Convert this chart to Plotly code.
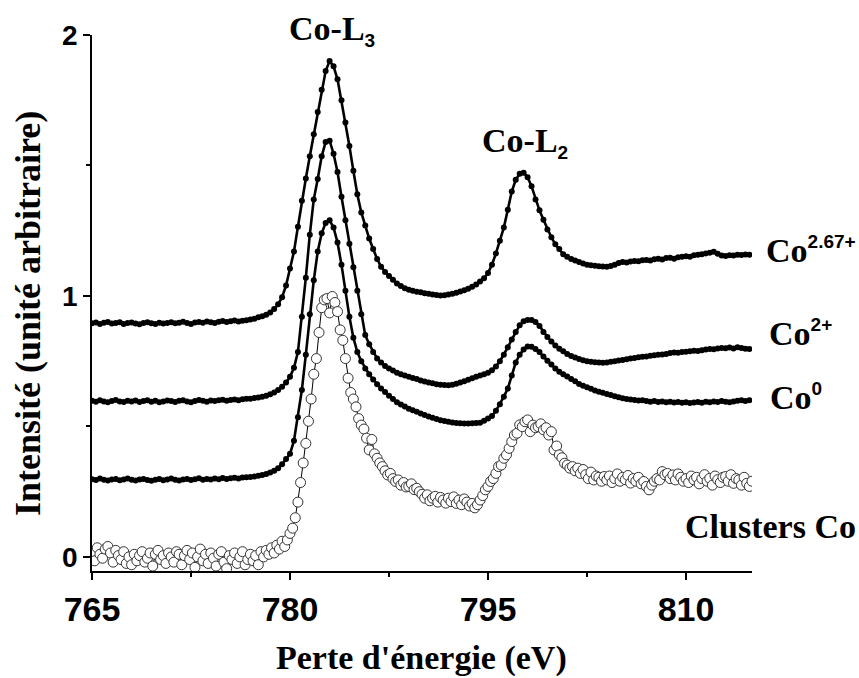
import plotly.graph_objects as go

# Energy sampling grids (eV)
energy_main = [round(765 + 0.3 * i, 1) for i in range(167)]
energy_clusters = [round(765 + 0.2 * i, 1) for i in range(251)]

# Co 2.67+ spectrum (offset +0.9)
co267 = [
    0.895, 0.898, 0.893, 0.897, 0.900, 0.894, 0.896, 0.899, 0.893, 0.896,
    0.898, 0.894, 0.892, 0.896, 0.899, 0.895, 0.893, 0.897, 0.894, 0.896,
    0.899, 0.895, 0.897, 0.901, 0.896, 0.893, 0.898, 0.900, 0.897, 0.902,
    0.899, 0.896, 0.901, 0.904, 0.900, 0.903, 0.906, 0.902, 0.905, 0.907,
    0.910, 0.913, 0.918, 0.922, 0.928, 0.937, 0.950, 0.968, 0.995, 1.040,
    1.105, 1.170, 1.265, 1.365, 1.450, 1.535, 1.620, 1.705, 1.790, 1.862,
    1.900, 1.880, 1.830, 1.750, 1.665, 1.575, 1.480, 1.390, 1.320, 1.270,
    1.220, 1.180, 1.142, 1.112, 1.092, 1.076, 1.062, 1.048, 1.038, 1.030,
    1.024, 1.020, 1.016, 1.014, 1.010, 1.008, 1.006, 1.004, 1.002, 1.003,
    1.006, 1.008, 1.012, 1.017, 1.022, 1.028, 1.035, 1.044, 1.055, 1.068,
    1.088, 1.120, 1.163, 1.212, 1.262, 1.330, 1.400, 1.445, 1.468, 1.472,
    1.455, 1.420, 1.370, 1.328, 1.292, 1.255, 1.225, 1.198, 1.180, 1.160,
    1.150, 1.142, 1.136, 1.130, 1.124, 1.120, 1.118, 1.116, 1.114, 1.113,
    1.112, 1.115, 1.120, 1.126, 1.130, 1.128, 1.132, 1.134, 1.133, 1.137,
    1.138, 1.136, 1.141, 1.143, 1.140, 1.145, 1.146, 1.143, 1.148, 1.150,
    1.152, 1.150, 1.156, 1.158, 1.160, 1.163, 1.166, 1.169, 1.162, 1.155,
    1.153, 1.156, 1.155, 1.158, 1.157, 1.159, 1.158,
]

# Co 2+ spectrum (offset +0.6)
co2 = [
    0.598, 0.595, 0.600, 0.596, 0.593, 0.597, 0.601, 0.596, 0.594, 0.598,
    0.596, 0.599, 0.594, 0.597, 0.600, 0.595, 0.598, 0.593, 0.596, 0.599,
    0.597, 0.594, 0.598, 0.600, 0.596, 0.593, 0.597, 0.601, 0.598, 0.595,
    0.599, 0.597, 0.600, 0.602, 0.598, 0.601, 0.603, 0.600, 0.604, 0.606,
    0.606, 0.609, 0.611, 0.614, 0.618, 0.623, 0.630, 0.640, 0.652, 0.668,
    0.690, 0.725, 0.785, 0.920, 1.070, 1.235, 1.370, 1.448, 1.535, 1.590,
    1.595, 1.545, 1.475, 1.380, 1.290, 1.200, 1.110, 1.020, 0.930, 0.850,
    0.815, 0.785, 0.760, 0.745, 0.732, 0.722, 0.714, 0.706, 0.700, 0.695,
    0.690, 0.686, 0.682, 0.676, 0.672, 0.668, 0.665, 0.662, 0.660, 0.659,
    0.658, 0.660, 0.664, 0.668, 0.673, 0.679, 0.685, 0.690, 0.695, 0.700,
    0.706, 0.715, 0.730, 0.750, 0.775, 0.803, 0.833, 0.862, 0.888, 0.903,
    0.908, 0.908, 0.900, 0.885, 0.862, 0.843, 0.825, 0.810, 0.798, 0.788,
    0.778, 0.770, 0.764, 0.758, 0.754, 0.750, 0.748, 0.746, 0.745, 0.744,
    0.745, 0.748, 0.750, 0.753, 0.755, 0.757, 0.760, 0.762, 0.765, 0.767,
    0.768, 0.771, 0.773, 0.775, 0.776, 0.778, 0.781, 0.783, 0.782, 0.785,
    0.786, 0.788, 0.790, 0.789, 0.792, 0.795, 0.797, 0.796, 0.799, 0.801,
    0.800, 0.802, 0.799, 0.803, 0.801, 0.798, 0.797,
]

# Co 0 spectrum (offset +0.3)
co0 = [
    0.298, 0.295, 0.300, 0.296, 0.293, 0.297, 0.299, 0.294, 0.297, 0.300,
    0.296, 0.293, 0.297, 0.299, 0.295, 0.292, 0.296, 0.299, 0.294, 0.297,
    0.300, 0.296, 0.293, 0.297, 0.299, 0.295, 0.298, 0.301, 0.296, 0.299,
    0.297, 0.300, 0.298, 0.302, 0.299, 0.301, 0.303, 0.300, 0.304, 0.305,
    0.306, 0.308, 0.311, 0.314, 0.318, 0.323, 0.330, 0.340, 0.355, 0.375,
    0.395, 0.445, 0.535, 0.640, 0.775, 0.930, 1.060, 1.170, 1.240, 1.280,
    1.290, 1.262, 1.205, 1.120, 1.020, 0.920, 0.840, 0.785, 0.750, 0.722,
    0.700, 0.680, 0.662, 0.645, 0.632, 0.618, 0.605, 0.593, 0.584, 0.576,
    0.568, 0.562, 0.556, 0.550, 0.544, 0.538, 0.533, 0.528, 0.524, 0.521,
    0.518, 0.515, 0.513, 0.512, 0.511, 0.511, 0.512, 0.513, 0.514, 0.522,
    0.530, 0.540, 0.560, 0.585, 0.614, 0.645, 0.695, 0.745, 0.775, 0.795,
    0.806, 0.805, 0.797, 0.785, 0.768, 0.752, 0.737, 0.722, 0.710, 0.700,
    0.691, 0.682, 0.673, 0.663, 0.656, 0.650, 0.644, 0.638, 0.633, 0.629,
    0.624, 0.620, 0.616, 0.612, 0.608, 0.605, 0.603, 0.601, 0.599, 0.600,
    0.597, 0.595, 0.597, 0.594, 0.596, 0.593, 0.595, 0.592, 0.594, 0.591,
    0.593, 0.590, 0.592, 0.594, 0.591, 0.595, 0.593, 0.596, 0.594, 0.597,
    0.595, 0.593, 0.596, 0.598, 0.600, 0.597, 0.600,
]

# Co clusters spectrum (no offset)
clusters = [
    0.020, -0.015, 0.035, 0.010, -0.005, 0.030, 0.040, 0.015, -0.020, 0.025, 0.005, -0.010, 0.020, -0.025, 0.000,
    -0.030, 0.010, -0.015, 0.005, 0.020, -0.020, -0.005, 0.015, -0.035, 0.010, 0.025, -0.010, 0.005, -0.025, 0.015,
    0.000, -0.020, 0.020, 0.010, -0.030, 0.005, 0.025, -0.010, 0.015, -0.040, 0.000, 0.030, -0.015, 0.010, -0.025,
    0.015, -0.005, -0.035, 0.010, 0.020, -0.020, -0.045, 0.005, -0.010, 0.015, -0.025, 0.000, 0.020, -0.030, -0.010,
    0.010, -0.015, 0.005, -0.030, 0.020, 0.000, 0.025, 0.010, 0.035, 0.015, 0.045, 0.030, 0.060, 0.040, 0.065,
    0.090, 0.110, 0.150, 0.210, 0.285, 0.360, 0.435, 0.520, 0.605, 0.700, 0.760, 0.860, 0.955, 0.985, 0.990,
    0.935, 0.998, 0.975, 0.940, 0.870, 0.830, 0.760, 0.685, 0.630, 0.605, 0.575, 0.530, 0.505, 0.490, 0.455,
    0.410, 0.450, 0.395, 0.378, 0.360, 0.346, 0.330, 0.314, 0.320, 0.300, 0.289, 0.295, 0.275, 0.285, 0.268,
    0.270, 0.280, 0.258, 0.263, 0.250, 0.240, 0.225, 0.238, 0.215, 0.225, 0.232, 0.210, 0.228, 0.218, 0.206,
    0.225, 0.212, 0.230, 0.205, 0.218, 0.200, 0.222, 0.210, 0.195, 0.205, 0.188, 0.200, 0.218, 0.235, 0.257,
    0.270, 0.289, 0.300, 0.320, 0.346, 0.352, 0.378, 0.391, 0.416, 0.442, 0.467, 0.474, 0.506, 0.499, 0.518,
    0.525, 0.480, 0.505, 0.495, 0.499, 0.510, 0.487, 0.495, 0.467, 0.480, 0.410, 0.425, 0.391, 0.380, 0.359,
    0.352, 0.340, 0.346, 0.330, 0.340, 0.320, 0.335, 0.315, 0.300, 0.325, 0.295, 0.310, 0.305, 0.290, 0.308,
    0.295, 0.310, 0.285, 0.300, 0.318, 0.290, 0.305, 0.296, 0.312, 0.283, 0.300, 0.290, 0.305, 0.280, 0.289,
    0.270, 0.257, 0.275, 0.290, 0.300, 0.295, 0.327, 0.315, 0.320, 0.300, 0.314, 0.295, 0.318, 0.305, 0.290,
    0.300, 0.285, 0.310, 0.295, 0.305, 0.280, 0.300, 0.315, 0.290, 0.301, 0.275, 0.310, 0.296, 0.285, 0.305,
    0.308, 0.290, 0.315, 0.282, 0.300, 0.295, 0.275, 0.305, 0.282, 0.270, 0.290,
]

x_ticks = [765, 780, 795, 810]
y_ticks = [0, 1, 2]

SERIF = "Liberation Serif, Times New Roman, serif"
SANS = "Liberation Sans, Arial, sans-serif"

# plot area in pixels
L, R, T, B = 92, 752, 35, 571
def px(xp):
    return (xp - L) / (R - L)
def py(yp):
    return (B - yp) / (B - T)

fig = go.Figure()

fig.add_trace(go.Scatter(
    x=energy_clusters, y=clusters, mode="lines+markers",
    line=dict(color="black", width=1),
    marker=dict(symbol="circle", size=10, color="white",
                line=dict(color="#333333", width=1)),
    showlegend=False, cliponaxis=True,
))
for ys in (co0, co2, co267):
    fig.add_trace(go.Scatter(
        x=energy_main, y=ys, mode="lines+markers",
        line=dict(color="black", width=2.6),
        marker=dict(symbol="circle", size=6, color="black"),
        showlegend=False,
    ))

def small(t):
    return ('<span style="font-family:Liberation Sans, Arial, sans-serif;font-size:19px">'
            + t + '</span>')

ann_font = dict(family=SERIF, size=34, color="black", weight="bold")
labels = [
    ("Co-L<sub>" + small("3") + "</sub>", 331.5, 30, "center"),
    ("Co-L<sub>" + small("2") + "</sub>", 524.5, 142, "center"),
    ("Co<sup>" + small("2.67+") + "</sup>", 764, 250, "left"),
    ("Co<sup>" + small("2+") + "</sup>", 766.7, 333, "left"),
    ("Co<sup>" + small("0") + "</sup>", 768, 397, "left"),
    ("Clusters Co", 683, 526, "left"),
]
for txt, xp, yp, anc in labels:
    fig.add_annotation(x=px(xp), y=py(yp), xref="paper", yref="paper", text=txt, showarrow=False,
                       xanchor=anc, yanchor="middle", font=ann_font)

# axis titles
fig.add_annotation(x=px(421), y=py(658), xref="paper", yref="paper",
                   text="Perte d'énergie (eV)", showarrow=False, xanchor="center", yanchor="middle",
                   font=dict(family=SERIF, size=34, color="black", weight="bold"))
fig.add_annotation(x=px(28), y=py(314), xref="paper", yref="paper",
                   text="Intensité (unité arbitraire)", showarrow=False, textangle=-90,
                   xanchor="center", yanchor="middle",
                   font=dict(family=SERIF, size=36, color="black", weight="bold"))

fig.update_layout(
    width=859, height=678,
    margin=dict(l=L, r=859 - R, t=T, b=678 - B),
    paper_bgcolor="white", plot_bgcolor="white",
    showlegend=False,
)
fig.update_xaxes(
    range=[765, 815], tickvals=x_ticks, ticktext=[str(v) for v in x_ticks],
    showline=True, linecolor="black", linewidth=1.5, mirror=False,
    ticks="outside", ticklen=7, tickwidth=1.5, tickcolor="black",
    minor=dict(tickvals=[772.5, 787.5, 802.5], ticks="outside", ticklen=4, tickwidth=1.5, tickcolor="black"),
    showgrid=False, zeroline=False,
    tickfont=dict(family=SANS, size=34, color="black", weight="bold"),
)
fig.update_yaxes(
    range=[-0.054, 2.0], tickvals=y_ticks, ticktext=[str(v) for v in y_ticks],
    showline=True, linecolor="black", linewidth=1.5, mirror=False,
    ticks="outside", ticklen=7, tickwidth=1.5, tickcolor="black",
    minor=dict(tickvals=[0.5, 1.5], ticks="outside", ticklen=4, tickwidth=1.5, tickcolor="black"),
    showgrid=False, zeroline=False,
    tickfont=dict(family=SANS, size=28, color="black", weight="bold"),
)

fig.write_html("out.html", config={"displayModeBar": False},
               post_script="document.body.style.margin='0';document.body.style.overflow='hidden';")
